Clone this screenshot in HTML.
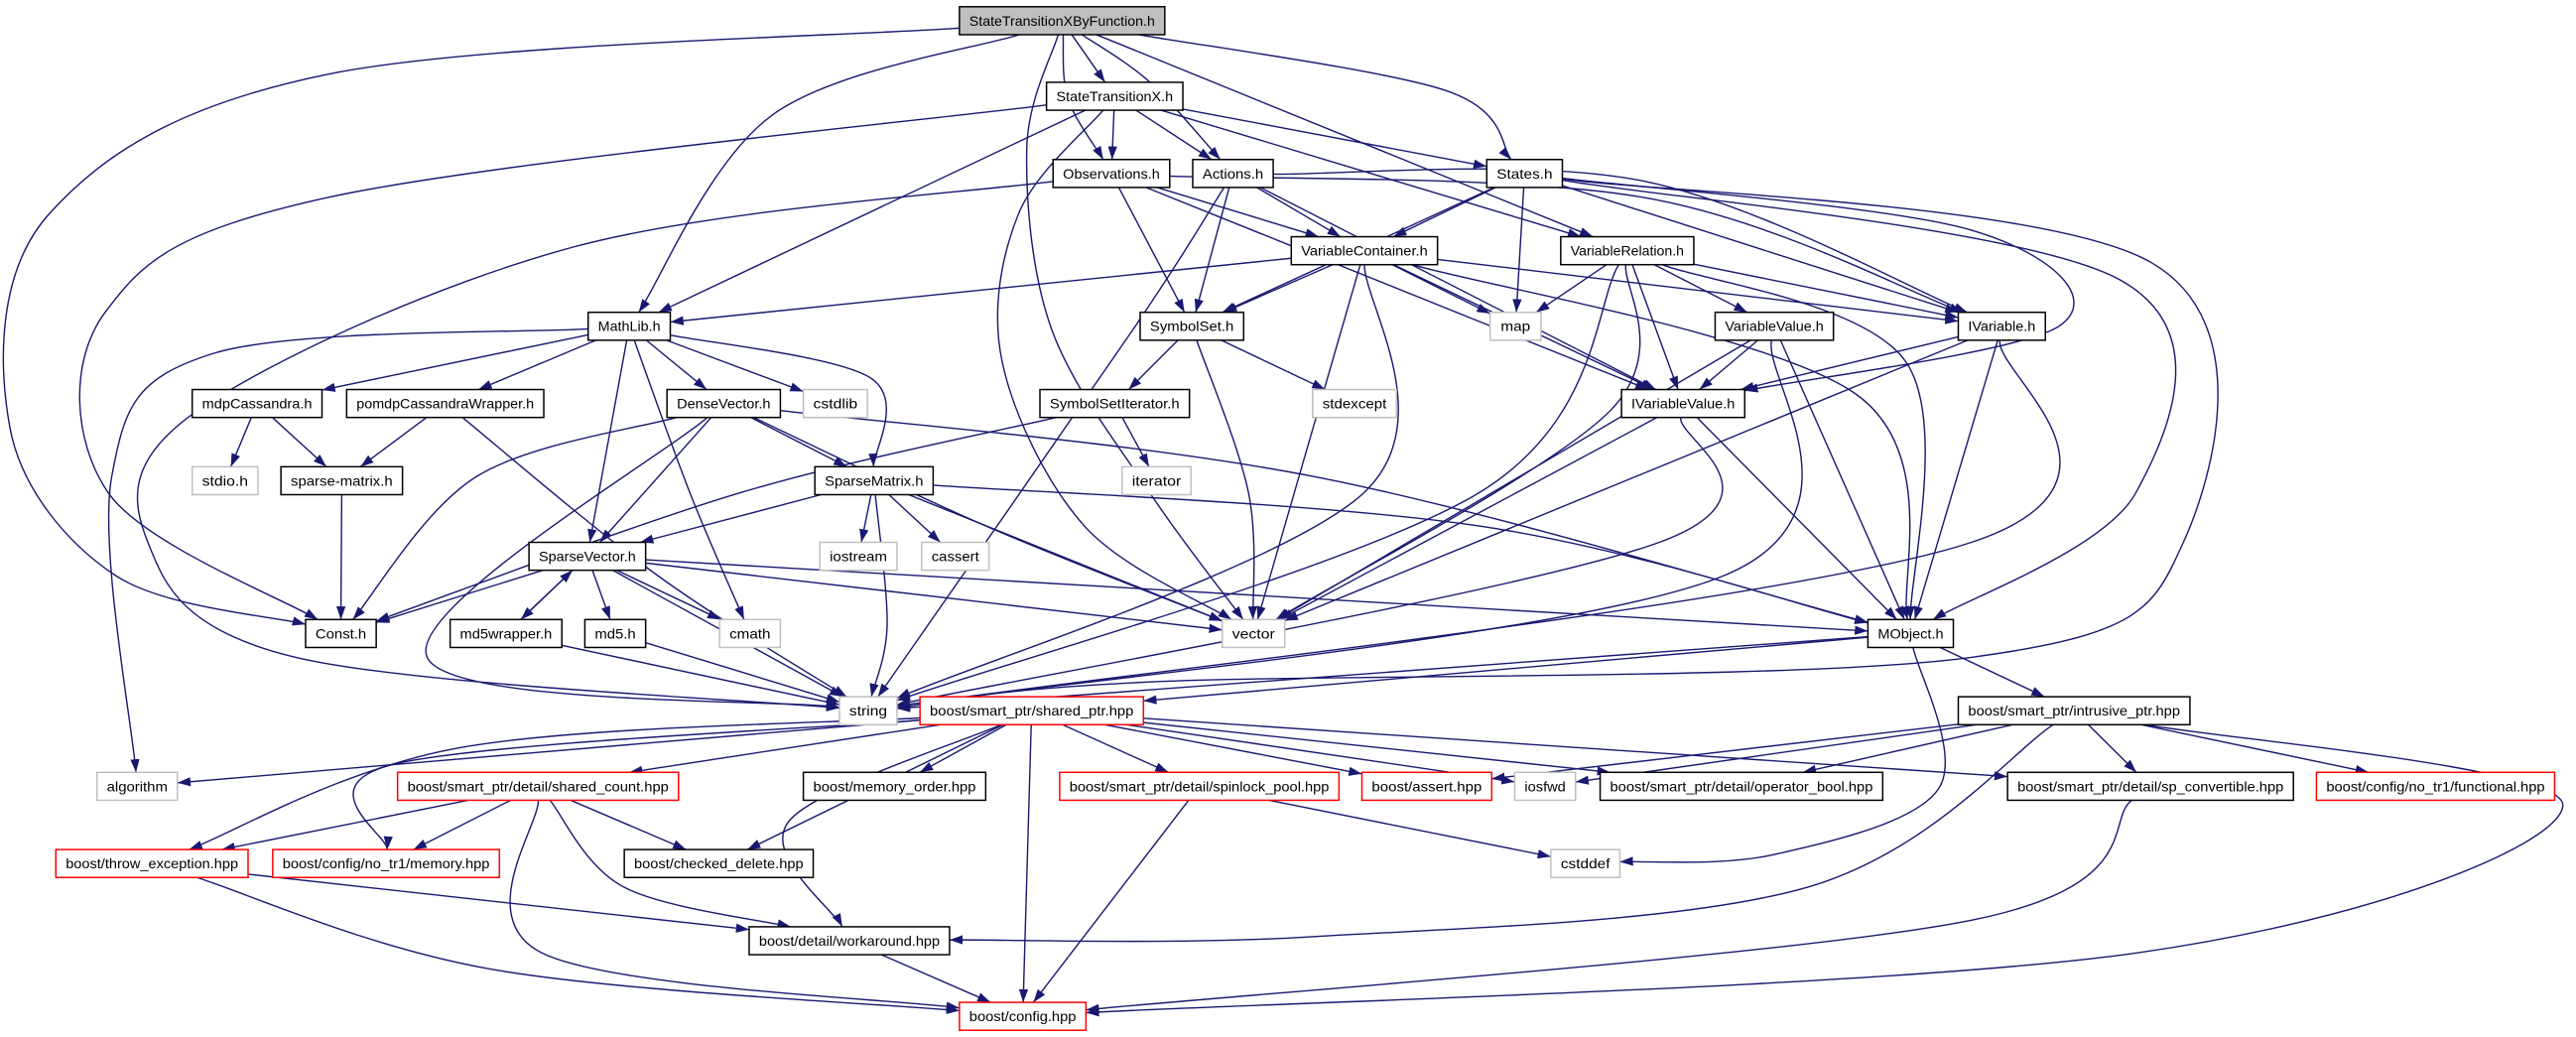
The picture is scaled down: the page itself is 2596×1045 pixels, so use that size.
<!DOCTYPE html>
<html><head><meta charset="utf-8">
<style>
html,body{margin:0;padding:0;background:#fff;width:2596px;height:1045px;overflow:hidden}
svg{display:block}
text{font-family:"Liberation Sans","DejaVu Sans",sans-serif;font-size:8.2px;fill:#000}
rect{stroke-width:0.9}
.n rect{fill:#fff;stroke:#000}
.g rect{fill:#fff;stroke:#bfbfbf}
.r rect{fill:#fff;stroke:#ff0000}
.root rect{fill:#bfbfbf;stroke:#000}
</style></head><body>
<svg id="s" width="2596" height="1045" viewBox="0 0 1568 631" xmlns="http://www.w3.org/2000/svg">
<defs><marker id="a" viewBox="0 0 10 7" markerWidth="8" markerHeight="5.6" refX="10" refY="3.5" orient="auto" markerUnits="userSpaceOnUse"><path d="M0,0 L10,3.5 L0,7 z" fill="#191970"/></marker></defs>
<g id="edges" fill="none" stroke="#191970" stroke-width="0.85"></g>
<g id="nodes">
<g class="root" id="root"><rect x="584" y="4" width="125" height="17"/><text x="646.5" y="15.5" text-anchor="middle" textLength="113" lengthAdjust="spacingAndGlyphs">StateTransitionXByFunction.h</text></g>
<g class="n" id="stx"><rect x="637" y="50" width="83" height="17"/><text x="678.5" y="61.5" text-anchor="middle" textLength="71" lengthAdjust="spacingAndGlyphs">StateTransitionX.h</text></g>
<g class="n" id="obs"><rect x="641" y="97" width="71" height="17"/><text x="676.5" y="108.5" text-anchor="middle" textLength="59" lengthAdjust="spacingAndGlyphs">Observations.h</text></g>
<g class="n" id="act"><rect x="726" y="97" width="49" height="17"/><text x="750.5" y="108.5" text-anchor="middle" textLength="37" lengthAdjust="spacingAndGlyphs">Actions.h</text></g>
<g class="n" id="sta"><rect x="905" y="97" width="46" height="17"/><text x="928" y="108.5" text-anchor="middle" textLength="34" lengthAdjust="spacingAndGlyphs">States.h</text></g>
<g class="n" id="vc"><rect x="786" y="144" width="89" height="17"/><text x="830.5" y="155.5" text-anchor="middle" textLength="77" lengthAdjust="spacingAndGlyphs">VariableContainer.h</text></g>
<g class="n" id="vr"><rect x="950" y="144" width="81" height="17"/><text x="990.5" y="155.5" text-anchor="middle" textLength="69" lengthAdjust="spacingAndGlyphs">VariableRelation.h</text></g>
<g class="n" id="ml"><rect x="358" y="190" width="50" height="17"/><text x="383" y="201.5" text-anchor="middle" textLength="38" lengthAdjust="spacingAndGlyphs">MathLib.h</text></g>
<g class="n" id="ss"><rect x="694" y="190" width="63" height="17"/><text x="725.5" y="201.5" text-anchor="middle" textLength="51" lengthAdjust="spacingAndGlyphs">SymbolSet.h</text></g>
<g class="g" id="map"><rect x="907" y="190" width="31" height="17"/><text x="922.5" y="201.5" text-anchor="middle" textLength="18" lengthAdjust="spacingAndGlyphs">map</text></g>
<g class="n" id="vv"><rect x="1044" y="190" width="72" height="17"/><text x="1080" y="201.5" text-anchor="middle" textLength="60" lengthAdjust="spacingAndGlyphs">VariableValue.h</text></g>
<g class="n" id="iv"><rect x="1192" y="190" width="53" height="17"/><text x="1218.5" y="201.5" text-anchor="middle" textLength="41" lengthAdjust="spacingAndGlyphs">IVariable.h</text></g>
<g class="n" id="mdp"><rect x="117" y="237" width="79" height="17"/><text x="156.5" y="248.5" text-anchor="middle" textLength="67" lengthAdjust="spacingAndGlyphs">mdpCassandra.h</text></g>
<g class="n" id="pcw"><rect x="211" y="237" width="120" height="17"/><text x="271" y="248.5" text-anchor="middle" textLength="108" lengthAdjust="spacingAndGlyphs">pomdpCassandraWrapper.h</text></g>
<g class="n" id="dv"><rect x="406" y="237" width="69" height="17"/><text x="440.5" y="248.5" text-anchor="middle" textLength="57" lengthAdjust="spacingAndGlyphs">DenseVector.h</text></g>
<g class="g" id="cstdlib"><rect x="489" y="237" width="39" height="17"/><text x="508.5" y="248.5" text-anchor="middle" textLength="27" lengthAdjust="spacingAndGlyphs">cstdlib</text></g>
<g class="n" id="ssi"><rect x="633" y="237" width="91" height="17"/><text x="678.5" y="248.5" text-anchor="middle" textLength="79" lengthAdjust="spacingAndGlyphs">SymbolSetIterator.h</text></g>
<g class="g" id="stdexcept"><rect x="799" y="237" width="51" height="17"/><text x="824.5" y="248.5" text-anchor="middle" textLength="39" lengthAdjust="spacingAndGlyphs">stdexcept</text></g>
<g class="n" id="ivv"><rect x="987" y="237" width="75" height="17"/><text x="1024.5" y="248.5" text-anchor="middle" textLength="63" lengthAdjust="spacingAndGlyphs">IVariableValue.h</text></g>
<g class="g" id="stdio"><rect x="117" y="284" width="40" height="17"/><text x="137" y="295.5" text-anchor="middle" textLength="28" lengthAdjust="spacingAndGlyphs">stdio.h</text></g>
<g class="n" id="spm"><rect x="171" y="284" width="74" height="17"/><text x="208" y="295.5" text-anchor="middle" textLength="62" lengthAdjust="spacingAndGlyphs">sparse-matrix.h</text></g>
<g class="n" id="sm"><rect x="496" y="284" width="72" height="17"/><text x="532" y="295.5" text-anchor="middle" textLength="60" lengthAdjust="spacingAndGlyphs">SparseMatrix.h</text></g>
<g class="g" id="iter"><rect x="683" y="284" width="42" height="17"/><text x="704" y="295.5" text-anchor="middle" textLength="30" lengthAdjust="spacingAndGlyphs">iterator</text></g>
<g class="n" id="sv"><rect x="322" y="330" width="71" height="17"/><text x="357.5" y="341.5" text-anchor="middle" textLength="59" lengthAdjust="spacingAndGlyphs">SparseVector.h</text></g>
<g class="g" id="ios"><rect x="499" y="330" width="47" height="17"/><text x="522.5" y="341.5" text-anchor="middle" textLength="35" lengthAdjust="spacingAndGlyphs">iostream</text></g>
<g class="g" id="cas"><rect x="561" y="330" width="41" height="17"/><text x="581.5" y="341.5" text-anchor="middle" textLength="29" lengthAdjust="spacingAndGlyphs">cassert</text></g>
<g class="n" id="con"><rect x="186" y="377" width="43" height="17"/><text x="207.5" y="388.5" text-anchor="middle" textLength="31" lengthAdjust="spacingAndGlyphs">Const.h</text></g>
<g class="n" id="md5w"><rect x="274" y="377" width="68" height="17"/><text x="308" y="388.5" text-anchor="middle" textLength="56" lengthAdjust="spacingAndGlyphs">md5wrapper.h</text></g>
<g class="n" id="md5"><rect x="356" y="377" width="37" height="17"/><text x="374.5" y="388.5" text-anchor="middle" textLength="25" lengthAdjust="spacingAndGlyphs">md5.h</text></g>
<g class="g" id="cmath"><rect x="438" y="377" width="37" height="17"/><text x="456.5" y="388.5" text-anchor="middle" textLength="25" lengthAdjust="spacingAndGlyphs">cmath</text></g>
<g class="g" id="vec"><rect x="744" y="377" width="38" height="17"/><text x="763" y="388.5" text-anchor="middle" textLength="26" lengthAdjust="spacingAndGlyphs">vector</text></g>
<g class="n" id="mo"><rect x="1137" y="377" width="52" height="17"/><text x="1163" y="388.5" text-anchor="middle" textLength="40" lengthAdjust="spacingAndGlyphs">MObject.h</text></g>
<g class="g" id="str"><rect x="511" y="424" width="35" height="17"/><text x="528.5" y="435.5" text-anchor="middle" textLength="23" lengthAdjust="spacingAndGlyphs">string</text></g>
<g class="r" id="sp"><rect x="560" y="424" width="136" height="17"/><text x="628" y="435.5" text-anchor="middle" textLength="124" lengthAdjust="spacingAndGlyphs">boost/smart_ptr/shared_ptr.hpp</text></g>
<g class="n" id="ip"><rect x="1192" y="424" width="141" height="17"/><text x="1262.5" y="435.5" text-anchor="middle" textLength="129" lengthAdjust="spacingAndGlyphs">boost/smart_ptr/intrusive_ptr.hpp</text></g>
<g class="g" id="alg"><rect x="59" y="470" width="49" height="17"/><text x="83.5" y="481.5" text-anchor="middle" textLength="37" lengthAdjust="spacingAndGlyphs">algorithm</text></g>
<g class="r" id="sc"><rect x="242" y="470" width="171" height="17"/><text x="327.5" y="481.5" text-anchor="middle" textLength="159" lengthAdjust="spacingAndGlyphs">boost/smart_ptr/detail/shared_count.hpp</text></g>
<g class="n" id="mord"><rect x="489" y="470" width="111" height="17"/><text x="544.5" y="481.5" text-anchor="middle" textLength="99" lengthAdjust="spacingAndGlyphs">boost/memory_order.hpp</text></g>
<g class="r" id="spl"><rect x="645" y="470" width="170" height="17"/><text x="730" y="481.5" text-anchor="middle" textLength="158" lengthAdjust="spacingAndGlyphs">boost/smart_ptr/detail/spinlock_pool.hpp</text></g>
<g class="r" id="ass"><rect x="829" y="470" width="79" height="17"/><text x="868.5" y="481.5" text-anchor="middle" textLength="67" lengthAdjust="spacingAndGlyphs">boost/assert.hpp</text></g>
<g class="g" id="iosfwd"><rect x="922" y="470" width="37" height="17"/><text x="940.5" y="481.5" text-anchor="middle" textLength="25" lengthAdjust="spacingAndGlyphs">iosfwd</text></g>
<g class="n" id="ob"><rect x="974" y="470" width="172" height="17"/><text x="1060" y="481.5" text-anchor="middle" textLength="160" lengthAdjust="spacingAndGlyphs">boost/smart_ptr/detail/operator_bool.hpp</text></g>
<g class="n" id="spc"><rect x="1222" y="470" width="174" height="17"/><text x="1309" y="481.5" text-anchor="middle" textLength="162" lengthAdjust="spacingAndGlyphs">boost/smart_ptr/detail/sp_convertible.hpp</text></g>
<g class="r" id="fn"><rect x="1410" y="470" width="145" height="17"/><text x="1482.5" y="481.5" text-anchor="middle" textLength="133" lengthAdjust="spacingAndGlyphs">boost/config/no_tr1/functional.hpp</text></g>
<g class="r" id="te"><rect x="34" y="517" width="117" height="17"/><text x="92.5" y="528.5" text-anchor="middle" textLength="105" lengthAdjust="spacingAndGlyphs">boost/throw_exception.hpp</text></g>
<g class="r" id="mem"><rect x="166" y="517" width="138" height="17"/><text x="235" y="528.5" text-anchor="middle" textLength="126" lengthAdjust="spacingAndGlyphs">boost/config/no_tr1/memory.hpp</text></g>
<g class="n" id="cd"><rect x="380" y="517" width="115" height="17"/><text x="437.5" y="528.5" text-anchor="middle" textLength="103" lengthAdjust="spacingAndGlyphs">boost/checked_delete.hpp</text></g>
<g class="g" id="cstddef"><rect x="944" y="517" width="42" height="17"/><text x="965" y="528.5" text-anchor="middle" textLength="30" lengthAdjust="spacingAndGlyphs">cstddef</text></g>
<g class="n" id="wa"><rect x="456" y="564" width="122" height="17"/><text x="517" y="575.5" text-anchor="middle" textLength="110" lengthAdjust="spacingAndGlyphs">boost/detail/workaround.hpp</text></g>
<g class="r" id="cfg"><rect x="584" y="610" width="77" height="17"/><text x="622.5" y="621.5" text-anchor="middle" textLength="65" lengthAdjust="spacingAndGlyphs">boost/config.hpp</text></g>
</g>
</svg>
<script>
(function(){
var E=[
["root","stx"],["root","obs",[[650,60]]],["root","act",[[700,50]]],["root","sta",[[880,55]]],["root","vr"],["root","ml",[[470,70]]],
["root","con",[[200,45],[30,130],[6,260],[70,350]]],["root","vec",[[625,90],[640,200],[700,300]]],
["stx","obs"],["stx","act"],["stx","sta"],["stx","vr"],["stx","ml"],["stx","con",[[200,120],[64,190],[66,300]]],["stx","vec",[[620,130],[610,220],[660,320]]],
["obs","ss"],["obs","vc"],["obs","ivv"],["obs","iv",[[1000,120]]],["obs","str",[[350,150],[120,250],[90,330],[180,400]]],
["act","ss"],["act","vc"],["act","iv",[[1000,110]]],["act","ivv"],["act","str",[[690,200]]],
["sta","ss"],["sta","vc"],["sta","map"],["sta","iv"],["sta","ivv",[[1200,140],[1254,198]]],["sta","mo",[[1290,170],[1300,300]]],["sta","str",[[1310,160],[1329,330],[1200,400],[700,415]]],
["vc","ml"],["vc","ss"],["vc","map"],["vc","iv"],["vc","ivv"],["vc","mo",[[1130,240]]],["vc","vec"],["vc","str",[[830,300]]],
["vr","map"],["vr","iv"],["vr","vv"],["vr","ivv"],["vr","mo",[[1160,220]]],["vr","vec",[[980,250]]],["vr","str",[[900,300]]],
["vv","ivv"],["vv","mo"],["vv","vec"],["vv","str",[[1050,350]]],
["iv","ivv"],["iv","mo"],["iv","str",[[1200,330]]],["iv","vec"],
["ivv","mo"],["ivv","vec"],["ivv","str",[[1010,330]]],
["ml","alg",[[130,215],[68,290]]],["ml","mdp"],["ml","pcw"],["ml","dv"],["ml","cstdlib"],["ml","sm",[[530,230]]],["ml","sv"],["ml","cmath",[[420,300]]],
["ss","ssi"],["ss","stdexcept"],["ss","vec",[[760,300]]],
["ssi","iter"],["ssi","con",[[450,300]]],
["mdp","stdio"],["mdp","spm"],["pcw","spm"],["pcw","str",[[400,350]]],["spm","con"],
["dv","sm"],["dv","sv"],["dv","con",[[290,290]]],["dv","str",[[260,400]]],["dv","vec",[[600,320]]],["dv","mo",[[800,290]]],
["sm","sv"],["sm","ios"],["sm","cas"],["sm","str",[[540,380]]],["sm","vec"],["sm","mo",[[900,320]]],
["sv","con"],["sv","md5w"],["sv","md5"],["sv","cmath"],["sv","str"],["sv","vec"],["sv","mo"],
["md5w","sv"],["md5w","str"],["md5","str"],
["mo","str"],["mo","sp"],["mo","ip"],["mo","cstddef",[[1180,480],[1080,520]]],
["sp","alg"],["sp","sc"],["sp","mord"],["sp","spl"],["sp","ass"],["sp","iosfwd"],["sp","ob"],["sp","spc"],["sp","cfg"],
["sp","te",[[280,455]]],["sp","mem",[[240,465]]],["sp","cd"],["sp","wa",[[480,500]]],
["sc","te"],["sc","mem"],["sc","cd"],["sc","wa",[[380,540]]],["sc","cfg",[[330,580]]],
["te","wa"],["te","cfg",[[300,590]]],["wa","cfg"],["spl","cfg"],["spl","cstddef"],
["ip","ass"],["ip","iosfwd"],["ip","ob"],["ip","spc"],["ip","fn"],["ip","wa",[[1100,540],[800,570]]],["ip","cfg",[[1560,490],[1300,580]]],
["spc","cfg",[[1200,560]]]
];
function R(id){var r=document.querySelector('#'+id+' rect');var x=+r.getAttribute('x'),y=+r.getAttribute('y'),w=+r.getAttribute('width'),h=+r.getAttribute('height');return {cx:x+w/2,cy:y+h/2,hw:w/2,hh:h/2};}
function B(r,p){var dx=p[0]-r.cx,dy=p[1]-r.cy;var t=Math.min(dx?r.hw/Math.abs(dx):1e9,dy?r.hh/Math.abs(dy):1e9);return [r.cx+dx*t,r.cy+dy*t];}
var g=document.getElementById('edges');
E.forEach(function(e){var a=R(e[0]),b=R(e[1]),v=e[2]||[];
var first=v.length?v[0]:[b.cx,b.cy],last=v.length?v[v.length-1]:[a.cx,a.cy];
var P=[B(a,first)].concat(v).concat([B(b,last)]);
var d='M'+P[0][0].toFixed(1)+','+P[0][1].toFixed(1);
if(P.length==2){d+=' L'+P[1][0].toFixed(1)+','+P[1][1].toFixed(1);}else{
for(var i=0;i<P.length-1;i++){var p0=P[Math.max(i-1,0)],p1=P[i],p2=P[i+1],p3=P[Math.min(i+2,P.length-1)];
var c1=[p1[0]+(p2[0]-p0[0])/6,p1[1]+(p2[1]-p0[1])/6],c2=[p2[0]-(p3[0]-p1[0])/6,p2[1]-(p3[1]-p1[1])/6];
d+=' C'+c1.map(function(n){return n.toFixed(1)}).join(',')+' '+c2.map(function(n){return n.toFixed(1)}).join(',')+' '+p2.map(function(n){return n.toFixed(1)}).join(',');}}
var p=document.createElementNS('http://www.w3.org/2000/svg','path');p.setAttribute('d',d);p.setAttribute('marker-end','url(#a)');g.appendChild(p);});
})();
</script>
</body></html>
